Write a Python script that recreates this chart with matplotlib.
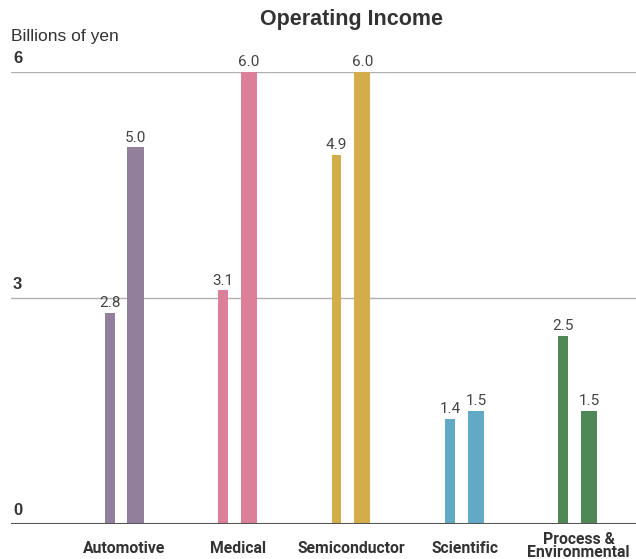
import numpy as np
import matplotlib.pyplot as plt

categories = ["Automotive", "Medical", "Semiconductor", "Scientific", "Process &\nEnvironmental"]
prev_year = [2.8, 3.1, 4.9, 1.4, 2.5]
this_year = [5.0, 6.0, 6.0, 1.5, 1.5]
colors = ["#927f9c", "#dc7f99", "#d3ad4a", "#62a9c6", "#4f8757"]
yticks = [0, 3, 6]

narrow = "Roboto"
sans = "Liberation Sans"

fig = plt.figure(figsize=(6.36, 5.59), dpi=100)
ax = fig.add_axes([11 / 636, 35 / 559, 625 / 636, 452 / 559])

x = np.arange(len(categories))
ax.bar(x - 0.132, prev_year, width=0.088, color=colors, zorder=3)
ax.bar(x + 0.097, this_year, width=0.141, color=colors, zorder=3)

for xi, v in zip(x - 0.132, prev_year):
    ax.annotate(f"{v:.1f}", (xi, v), xytext=(0, 2), textcoords="offset points",
                ha="center", va="bottom", fontsize=11, family=narrow, color="#444444",
                annotation_clip=False)
for xi, v in zip(x + 0.097, this_year):
    ax.annotate(f"{v:.1f}", (xi, v), xytext=(0, 2), textcoords="offset points",
                ha="center", va="bottom", fontsize=11, family=narrow, color="#444444",
                annotation_clip=False)

# gridlines
for t in yticks:
    if t == 0:
        ax.axhline(t, color="#555555", lw=1.5, zorder=4)
    else:
        ax.axhline(t, color="#b0b0b0", lw=1, zorder=1)
    ax.annotate(str(t), (0, t), xycoords=("axes fraction", "data"), xytext=(1.5, 4),
                textcoords="offset points", ha="left", va="bottom", fontsize=12,
                fontweight="bold", family=sans, color="#333333", annotation_clip=False)

for xi, c in zip(x, categories):
    two = "\n" in c
    ax.annotate(c, (xi, 0), xycoords=("data", "axes fraction"),
                xytext=(0, -16.0 if two else -17.5),
                textcoords="offset points", ha="center", va="center", fontsize=11.3,
                fontweight="bold", family=narrow, color="#333333", linespacing=0.85,
                annotation_clip=False)

ax.set_xlim(-1.0, 4.507)
ax.set_ylim(0, 6)
ax.axis("off")

fig.text(11 / 636, 1 - 37 / 559, "Billions of yen", fontsize=12.5, family=sans,
         color="#333333", ha="left", va="center")
fig.text(351 / 636, 1 - 20 / 559, "Operating Income", fontsize=15.5, fontweight="bold",
         family=sans, color="#333333", ha="center", va="center")

fig.savefig("out.png", dpi=100)
